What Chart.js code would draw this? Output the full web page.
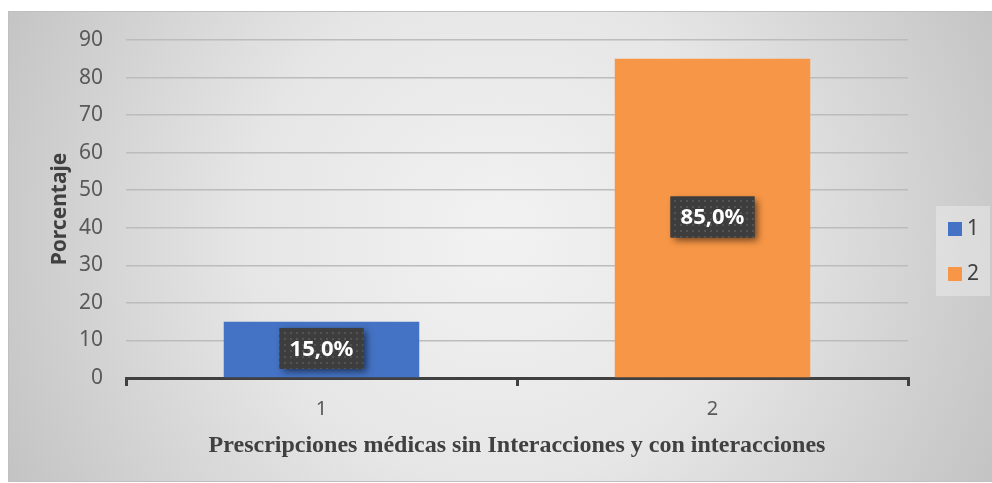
<!DOCTYPE html>
<html>
<head>
<meta charset="utf-8">
<script src="https://cdn.jsdelivr.net/npm/chart.js@4/dist/chart.umd.min.js"></script>
<style>
  html, body { margin: 0; padding: 0; background: #fff; }
  #wrap { width: 992px; height: 483px; position: relative; }
</style>
</head>
<body>
<div id="wrap"><canvas id="chart" width="992" height="483"></canvas></div>
<script>
// datos
const categorias = ["1", "2"];
const serie1 = [15, null];
const serie2 = [null, 85];
const etiquetas = ["15,0%", "85,0%"];
const nombresSerie = ["1", "2"];
const colores = ["#4472C4", "#F79646"];

const tituloX = "Prescripciones médicas sin Interacciones y con interacciones";
const tituloY = "Porcentaje";

// patrón de puntos para las etiquetas
function crearPatron(ctx) {
    const c = document.createElement("canvas");
    c.width = 6; c.height = 6;
    const p = c.getContext("2d");
    p.fillStyle = "#3d3d3d";
    p.fillRect(0, 0, 6, 6);
    p.fillStyle = "#545454";
    p.fillRect(2, 2, 2, 2);
    return ctx.createPattern(c, "repeat");
}

// fondo y marco
const fondo = {
    id: "fondo",
    beforeDraw(chart) {
        const ctx = chart.ctx;
        ctx.save();
        ctx.fillStyle = "#fff";
        ctx.fillRect(0, 0, chart.width, chart.height);
        const g = ctx.createRadialGradient(500, 235, 0, 500, 235, 560);
        g.addColorStop(0, "#f2f2f2");
        g.addColorStop(0.45, "#e6e6e6");
        g.addColorStop(1, "#c2c2c2");
        ctx.fillStyle = g;
        ctx.fillRect(8, 11, 984, 470);
        ctx.strokeStyle = "#c0c0c0";
        ctx.lineWidth = 1;
        ctx.strokeRect(8.5, 11.5, 984, 470);
        ctx.restore();
    }
};

// etiquetas de datos
const etiquetasDatos = {
    id: "etiquetasDatos",
    afterDatasetsDraw(chart) {
        const ctx = chart.ctx;
        const patron = crearPatron(ctx);
        chart.data.datasets.forEach((ds, i) => {
            const meta = chart.getDatasetMeta(i);
            meta.data.forEach((bar, j) => {
                if (ds.data[j] == null) return;
                const cx = bar.x;
                const cy = (bar.y + bar.base) / 2 - 1;
                const w = 84, h = 41;
                ctx.save();
                ctx.shadowColor = "rgba(0,0,0,0.55)";
                ctx.shadowBlur = 7;
                ctx.shadowOffsetX = 3;
                ctx.shadowOffsetY = 3;
                ctx.fillStyle = "#404040";
                ctx.fillRect(cx - w / 2, cy - h / 2, w, h);
                ctx.restore();
                ctx.save();
                ctx.fillStyle = patron;
                ctx.fillRect(cx - w / 2, cy - h / 2, w, h);
                ctx.fillStyle = "#fff";
                ctx.font = "bold 22px 'Noto Sans'";
                ctx.textAlign = "center";
                ctx.textBaseline = "middle";
                ctx.fillText(etiquetas[j], cx, cy + 1);
                ctx.restore();
            });
        });
    }
};

// leyenda a la derecha
const leyenda = {
    id: "leyenda",
    afterDraw(chart) {
        const ctx = chart.ctx;
        ctx.save();
        ctx.fillStyle = "rgba(240,240,240,0.45)";
        ctx.fillRect(936, 206, 54, 90);
        ctx.font = "21px 'Noto Sans'";
        ctx.textBaseline = "middle";
        nombresSerie.forEach((n, i) => {
            const y = 229 + i * 45;
            ctx.fillStyle = colores[i];
            ctx.fillRect(948, y - 7, 14, 14);
            ctx.fillStyle = "#404040";
            ctx.fillText(n, 967, y);
        });
        ctx.restore();
    }
};

new Chart(document.getElementById("chart"), {
    type: "bar",
    data: {
        labels: categorias,
        datasets: [
            { label: nombresSerie[0], data: serie1, backgroundColor: colores[0], grouped: false },
            { label: nombresSerie[1], data: serie2, backgroundColor: colores[1], grouped: false }
        ]
    },
    options: {
        responsive: false,
        animation: false,
        barPercentage: 0.5,
        categoryPercentage: 1,
        layout: { padding: { left: 8, right: 84, top: 40, bottom: 5 } },
        plugins: {
            legend: { display: false },
            tooltip: { enabled: false }
        },
        scales: {
            x: {
                grid: {
                    drawOnChartArea: false,
                    drawTicks: true,
                    tickLength: 8,
                    color: "#404040",
                    lineWidth: 3
                },
                border: { display: true, color: "#404040", width: 3 },
                ticks: { color: "#595959", font: { family: "'Noto Sans'", size: 20 }, padding: 11 },
                title: {
                    display: true,
                    text: tituloX,
                    color: "#404040",
                    font: { family: "'Liberation Serif'", size: 24, weight: "bold" },
                    padding: { top: 0, bottom: 18 }
                },
                afterFit(s) { s.height = 100; }
            },
            y: {
                min: 0,
                max: 90,
                ticks: { stepSize: 10, color: "#595959", font: { family: "'Noto Sans'", size: 21 }, padding: 23 },
                grid: {
                    drawTicks: false,
                    color: (c) => c.tick && c.tick.value === 0 ? "rgba(0,0,0,0)" : "#bcbcbc",
                    lineWidth: 1.5
                },
                border: { display: false },
                title: {
                    display: true,
                    text: tituloY,
                    color: "#404040",
                    font: { family: "'Noto Sans'", size: 21, weight: "bold" },
                    padding: { top: 39, bottom: 0 }
                },
                afterFit(s) { s.width = 118; }
            }
        }
    },
    plugins: [fondo, etiquetasDatos, leyenda]
});
</script>
</body>
</html>
